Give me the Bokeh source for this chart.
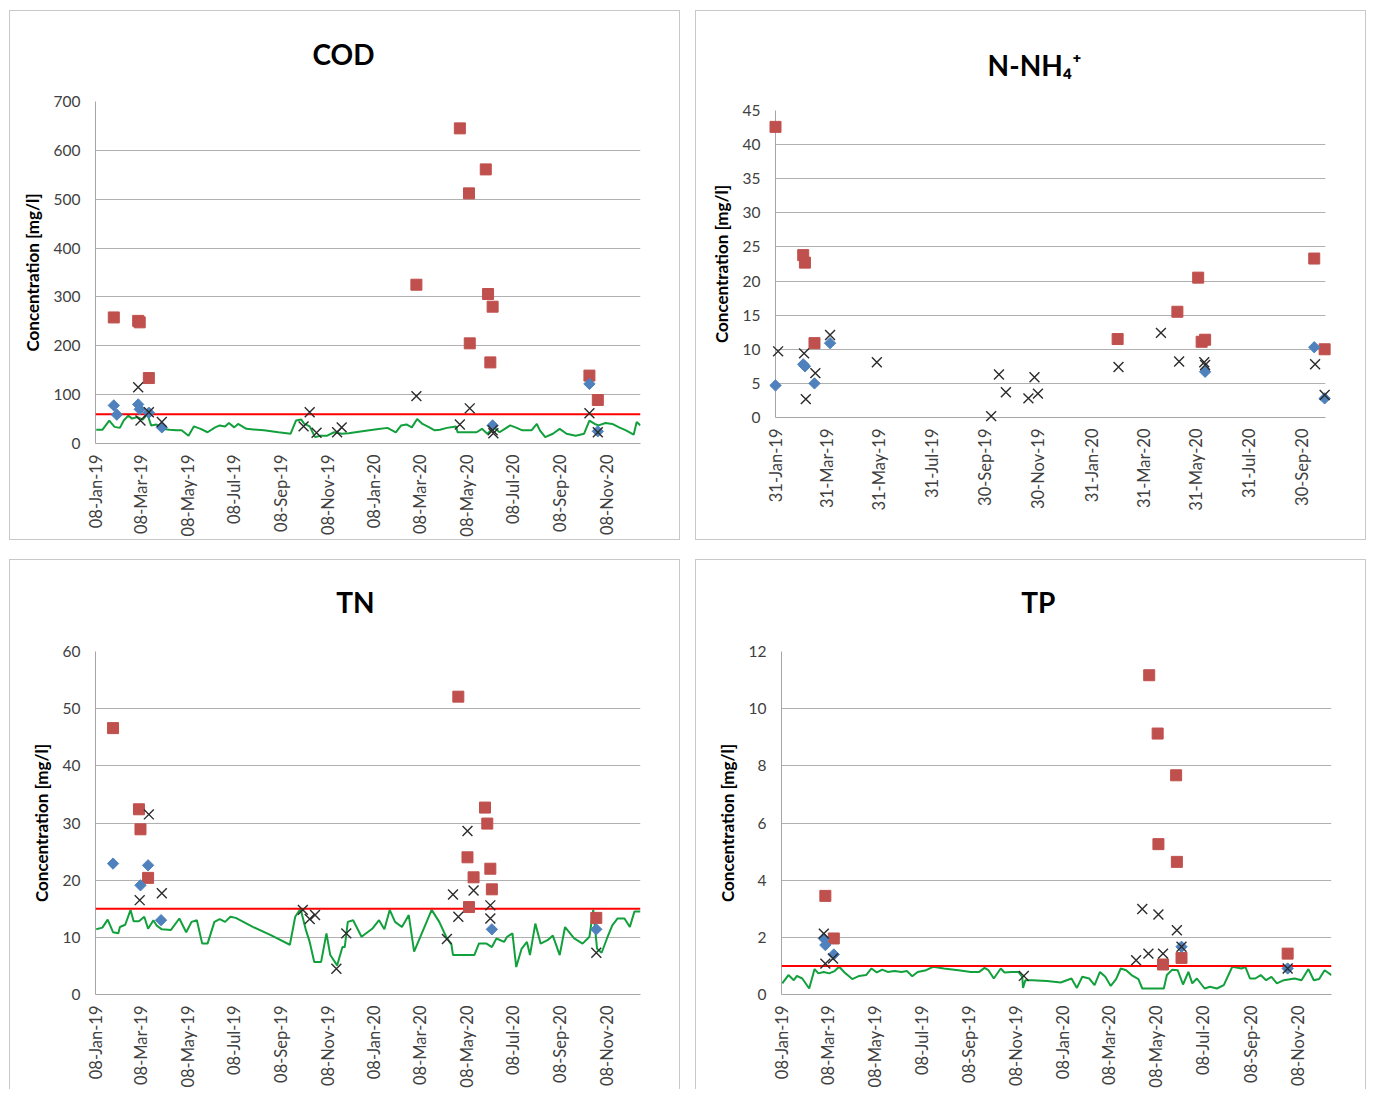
import numpy as np
import pandas as pd
from bokeh.plotting import figure
from bokeh.layouts import row, column
from bokeh.models import Range1d, FixedTicker, Span, DatetimeTickFormatter
from bokeh.core.properties import value
from bokeh.embed import file_html
from bokeh.resources import INLINE

# all *_day arrays: days since this date
BASE_DATE = "2019-01-08"

# ---------------- COD ----------------
cod_in_day = [23, 55, 57, 69, 420, 477, 489, 490, 511, 514, 517, 520, 647, 658]
cod_in_val = [258, 251, 248, 134, 325, 645, 512, 205, 561, 306, 166, 280, 139, 89]
cod_mid_day = [23, 27, 55, 57, 69, 86, 520, 647, 658]
cod_mid_val = [78, 59, 80, 70, 63, 33, 37, 122, 25]
cod_out_day = [55, 58, 69, 86, 272, 280, 289, 316, 322, 420, 477, 490, 520, 521, 647, 658]
cod_out_val = [115, 47, 64, 44, 35, 64, 22, 23, 33, 97, 39, 72, 27, 21, 62, 23]
cod_line_day = [0, 8, 17, 24, 31, 36, 42, 47, 54, 61, 67, 72, 79, 86, 96, 105, 112, 121, 128,
                137, 146, 156, 162, 169, 174, 181, 186, 197, 220, 239, 255, 262, 269, 273, 280,
                287, 294, 303, 312, 322, 331, 349, 368, 382, 393, 400, 407, 414, 421, 428, 437,
                444, 451, 460, 472, 474, 488, 499, 506, 513, 522, 529, 536, 543, 550, 559, 571,
                578, 582, 589, 599, 608, 617, 629, 640, 647, 654, 659, 668, 677, 686, 695, 705,
                709, 714]
cod_line_val = [28, 28, 47, 34, 32, 47, 57, 51, 54, 49, 60, 37, 39, 30, 28, 27, 27, 16, 35,
                30, 23, 33, 37, 35, 42, 33, 40, 30, 27, 23, 20, 47, 49, 40, 35,
                13, 16, 16, 23, 20, 21, 25, 29, 32, 23, 37, 39, 33, 50, 40, 33,
                27, 28, 32, 35, 23, 23, 23, 30, 20, 33, 23, 30, 37, 33, 27, 27,
                40, 27, 13, 20, 30, 20, 16, 20, 47, 40, 37, 42, 40, 33, 27, 18,
                44, 37]
cod_limit = 60
cod_y_ticks = [0, 100, 200, 300, 400, 500, 600, 700]

# ---------------- N-NH4+ ----------------
nh4_in_day = [23, 55, 57, 68, 418, 487, 511, 515, 519, 645, 657]
nh4_in_val = [42.6, 23.8, 22.7, 10.9, 11.5, 15.5, 20.5, 11.1, 11.4, 23.3, 10.0]
nh4_mid_day = [23, 55, 57, 68, 86, 519, 645, 657]
nh4_mid_val = [4.7, 7.8, 7.5, 5.0, 10.9, 6.7, 10.3, 2.8]
nh4_out_day = [26, 56, 58, 69, 86, 140, 272, 281, 289, 315, 322, 326, 419, 468, 489, 518, 519, 646, 657]
nh4_out_val = [9.7, 9.4, 2.7, 6.5, 12.1, 8.1, 0.2, 6.3, 3.7, 2.8, 5.9, 3.5, 7.4, 12.4, 8.2, 8.1, 7.7, 7.8, 3.3]
nh4_y_ticks = [0, 5, 10, 15, 20, 25, 30, 35, 40, 45]

# ---------------- TN ----------------
tn_in_day = [22, 56, 58, 68, 475, 487, 489, 495, 510, 513, 517, 519, 656]
tn_in_val = [46.6, 32.4, 28.9, 20.4, 52.1, 24.0, 15.3, 20.5, 32.7, 29.9, 22.0, 18.4, 13.4]
tn_mid_day = [22, 58, 68, 85, 519, 656]
tn_mid_val = [22.9, 19.1, 22.6, 13.0, 11.4, 11.4]
tn_out_day = [57, 69, 86, 271, 280, 287, 315, 328, 460, 468, 475, 487, 495, 517, 517, 656]
tn_out_val = [16.5, 31.5, 17.7, 14.8, 13.2, 13.9, 4.5, 10.7, 9.7, 17.5, 13.6, 28.6, 18.2, 15.6, 13.3, 7.3]
tn_line_day = [0, 8, 15, 22, 29, 31, 38, 45, 49, 56, 63, 68, 75, 79, 86, 98, 109, 118, 125, 132,
               139, 146, 155, 162, 169, 176, 183, 206, 229, 254, 261, 268, 275, 280, 286, 295,
               302, 307, 316, 323, 326, 330, 337, 348, 362, 371, 378, 385, 392, 401, 410, 417,
               429, 440, 450, 459, 466, 468, 496, 502, 512, 519, 525, 535, 539, 546, 551, 558,
               565, 569, 576, 583, 592, 599, 608, 615, 627, 638, 647, 652, 657, 663, 670, 677,
               684, 693, 700, 706, 714]
tn_line_val = [11.4, 11.7, 13.1, 10.9, 10.7, 11.8, 12.2, 14.8, 12.8, 12.8, 13.6, 11.5, 13.0, 12.1,
               11.4, 11.3, 13.3, 10.9, 12.7, 13.0, 8.9, 8.9, 12.7, 13.2, 12.7, 13.6, 13.4, 11.8,
               10.4, 8.7, 13.6, 15.0, 11.3, 9.2, 5.7, 5.7, 10.7, 6.9, 5.1, 8.3, 8.3, 12.7, 13.0,
               10.1, 11.5, 13.0, 11.4, 14.8, 12.7, 11.8, 13.9, 7.5, 11.3, 14.8, 12.7, 10.1, 8.7,
               6.9, 6.9, 8.9, 8.9, 8.3, 9.8, 9.2, 10.1, 10.7, 4.8, 8.0, 9.2, 6.9, 12.4, 8.9, 9.5,
               10.3, 6.9, 11.8, 9.8, 8.9, 10.1, 14.8, 8.0, 7.3, 9.8, 12.1, 13.3, 13.3, 11.8, 14.5,
               14.5]
tn_limit = 15
tn_y_ticks = [0, 10, 20, 30, 40, 50, 60]

# ---------------- TP ----------------
tp_in_day = [56, 67, 477, 488, 489, 495, 512, 513, 519, 657]
tp_in_val = [3.45, 1.96, 11.17, 9.13, 5.26, 1.05, 7.67, 4.64, 1.28, 1.43]
tp_mid_day = [54, 56, 67, 519, 657]
tp_mid_val = [1.96, 1.73, 1.40, 1.67, 0.91]
tp_out_day = [54, 56, 66, 314, 460, 468, 476, 489, 495, 513, 519, 657]
tp_out_val = [2.13, 1.08, 1.26, 0.65, 1.20, 2.99, 1.43, 2.80, 1.43, 2.25, 1.67, 0.91]
tp_line_day = [0, 8, 15, 19, 26, 35, 42, 47, 54, 61, 68, 74, 81, 91, 100, 109, 116, 123, 130,
               137, 146, 155, 162, 169, 176, 187, 196, 210, 229, 245, 256, 263, 268, 275, 284,
               289, 298, 307, 312, 313, 316, 325, 344, 362, 376, 383, 390, 399, 406, 413, 420,
               427, 434, 440, 447, 454, 463, 468, 496, 500, 507, 514, 521, 528, 533, 539, 549,
               556, 565, 574, 585, 597, 602, 608, 615, 622, 629, 636, 643, 652, 666, 675, 684,
               691, 698, 705, 714]
tp_line_val = [0.39, 0.68, 0.50, 0.65, 0.56, 0.21, 0.89, 0.74, 0.79, 0.74, 0.82, 0.97, 0.77,
               0.54, 0.65, 0.68, 0.91, 0.77, 0.87, 0.79, 0.82, 0.79, 0.82, 0.64, 0.79, 0.85,
               0.97, 0.91, 0.85, 0.79, 0.79, 0.93, 0.85, 0.56, 0.91, 0.77, 0.79, 0.79, 0.62,
               0.23, 0.50, 0.50, 0.47, 0.42, 0.56, 0.23, 0.62, 0.56, 0.33, 0.79, 0.62, 0.30,
               0.54, 0.91, 0.85, 0.68, 0.54, 0.21, 0.21, 0.68, 0.87, 0.85, 0.35, 0.79, 0.39,
               0.56, 0.21, 0.27, 0.21, 0.33, 0.97, 0.91, 0.97, 0.56, 0.56, 0.68, 0.50, 0.62,
               0.39, 0.50, 0.56, 0.50, 0.89, 0.50, 0.54, 0.85, 0.68]
tp_limit = 1
tp_y_ticks = [0, 2, 4, 6, 8, 10, 12]

# ---------------- axes ----------------
x_labels_08 = ["08-Jan-19", "08-Mar-19", "08-May-19", "08-Jul-19", "08-Sep-19", "08-Nov-19",
               "08-Jan-20", "08-Mar-20", "08-May-20", "08-Jul-20", "08-Sep-20", "08-Nov-20"]
x_labels_eom = ["31-Jan-19", "31-Mar-19", "31-May-19", "31-Jul-19", "30-Sep-19", "30-Nov-19",
                "31-Jan-20", "31-Mar-20", "31-May-20", "31-Jul-20", "30-Sep-20"]
x_range_08 = ("2019-01-07", "2020-12-22")
x_range_eom = ("2019-01-31", "2020-10-27")

Y_LABEL = "Concentration [mg/l]"
FONT = "Lato"
RED = "#C0504D"
BLUE = "#4F81BD"
XCOL = "#2b2b2b"
GREEN = "#12A03C"


def ms_from_days(days):
    t = pd.Timestamp(BASE_DATE) + pd.to_timedelta(np.asarray(days, dtype=float), unit="D")
    return (t.values.astype("datetime64[ms]").astype(np.int64)).astype(float)


def ms_from_str(s):
    return int(pd.Timestamp(s).value // 10**6)


def make_panel(title, w, h, borders, xr, x_labels, ymax, yticks,
               inflow, mid, outflow, line=None, limit=None, title_frac=(0.5, 1.14)):
    bl, br, bt, bb = borders
    x0, x1 = ms_from_str(xr[0]), ms_from_str(xr[1])
    p = figure(width=w, height=h, x_axis_type="datetime",
               x_range=Range1d(x0, x1), y_range=Range1d(0, ymax),
               output_backend="svg", toolbar_location=None,
               min_border_left=bl, min_border_right=br, min_border_top=bt, min_border_bottom=bb)

    p.outline_line_color = None
    p.background_fill_color = "white"
    p.border_fill_color = "white"
    p.xgrid.grid_line_color = None
    p.ygrid.grid_line_color = "#b0b0b0"
    p.ygrid.grid_line_width = 1

    tick_dates = [pd.to_datetime(s, format="%d-%b-%y") for s in x_labels]
    tick_ms = [int(t.value // 10**6) for t in tick_dates]
    p.xaxis.ticker = FixedTicker(ticks=tick_ms)
    p.xaxis.formatter = DatetimeTickFormatter(
        days="%d-%b-%y", months="%d-%b-%y", years="%d-%b-%y", hours="%d-%b-%y",
        hourmin="%d-%b-%y", minutes="%d-%b-%y", minsec="%d-%b-%y", seconds="%d-%b-%y",
        milliseconds="%d-%b-%y", microseconds="%d-%b-%y")
    p.xaxis.major_label_overrides = {k: lab for k, lab in zip(tick_ms, x_labels)}
    p.xaxis.major_label_orientation = np.pi / 2
    p.yaxis.ticker = FixedTicker(ticks=yticks)

    for ax in (p.xaxis[0], p.yaxis[0]):
        ax.axis_line_color = "#a6a6a6"
        ax.axis_line_width = 1
        ax.major_tick_line_color = None
        ax.minor_tick_line_color = None
        ax.major_tick_out = 0
        ax.major_tick_in = 0
        ax.minor_tick_out = 0
        ax.major_label_text_font = FONT
        ax.major_label_text_color = "#404040"
    p.xaxis.major_label_text_font_size = "16.5px"
    p.yaxis.major_label_text_font_size = "15.5px"
    p.xaxis.major_label_standoff = 11
    p.yaxis.major_label_standoff = 15
    p.yaxis.axis_label = Y_LABEL
    p.yaxis.axis_label_text_font = FONT
    p.yaxis.axis_label_text_font_size = "17px"
    p.yaxis.axis_label_text_font_style = "bold"
    p.yaxis.axis_label_text_color = "#000000"
    p.yaxis.axis_label_standoff = 8

    if line is not None:
        p.line(ms_from_days(line[0]), line[1], line_color=GREEN, line_width=2)
    if limit is not None:
        p.add_layout(Span(location=limit, dimension="width", line_color="#FF0000", line_width=2))

    p.scatter(ms_from_days(inflow[0]), inflow[1], marker="square", size=11,
              fill_color=RED, line_color=RED, level="overlay")
    p.scatter(ms_from_days(mid[0]), mid[1], marker="square", angle=np.pi / 4, size=8,
              fill_color=BLUE, line_color=BLUE, level="overlay")
    p.scatter(ms_from_days(outflow[0]), outflow[1], marker="x", size=14,
              line_color=XCOL, line_width=1.4, level="overlay")

    # chart title: placed above the plot area, as a fraction of the frame
    p.text(x=[x0 + title_frac[0] * (x1 - x0)], y=[title_frac[1] * ymax], text=[title],
           text_align="center", text_baseline="middle", text_font=value(FONT),
           text_font_size=value("28px"), text_font_style="bold", text_color="#000000",
           level="overlay")
    return p


p_cod = make_panel("COD", 671, 530, (85, 41, 90, 98), x_range_08, x_labels_08, 700, cod_y_ticks,
                   (cod_in_day, cod_in_val), (cod_mid_day, cod_mid_val), (cod_out_day, cod_out_val),
                   line=(cod_line_day, cod_line_val), limit=cod_limit, title_frac=(0.455, 1.140))
p_nh4 = make_panel("N-NH\u2084\u207A", 671, 530, (79, 42, 99, 124), x_range_eom, x_labels_eom, 45,
                   nh4_y_ticks, (nh4_in_day, nh4_in_val), (nh4_mid_day, nh4_mid_val),
                   (nh4_out_day, nh4_out_val), title_frac=(0.471, 1.147))
p_tn = make_panel("TN", 671, 530, (85, 41, 91, 96), x_range_08, x_labels_08, 60, tn_y_ticks,
                  (tn_in_day, tn_in_val), (tn_mid_day, tn_mid_val), (tn_out_day, tn_out_val),
                  line=(tn_line_day, tn_line_val), limit=tn_limit, title_frac=(0.477, 1.143))
p_tp = make_panel("TP", 671, 530, (85, 36, 91, 96), x_range_08, x_labels_08, 12, tp_y_ticks,
                  (tp_in_day, tp_in_val), (tp_mid_day, tp_mid_val), (tp_out_day, tp_out_val),
                  line=(tp_line_day, tp_line_val), limit=tp_limit, title_frac=(0.467, 1.143))

BORDER = "1px solid #c8c8c8"
for p in (p_cod, p_nh4):
    p.styles = {"border": BORDER}
for p in (p_tn, p_tp):
    p.styles = {"border-top": BORDER, "border-left": BORDER, "border-right": BORDER}

top_row = row(column(p_cod), column(p_nh4), spacing=15)
bottom_row = row(column(p_tn), column(p_tp), spacing=15)
layout = column(top_row, bottom_row, spacing=19, margin=(10, 0, 0, 9))

open("out.html", "w").write(file_html(layout, INLINE))
